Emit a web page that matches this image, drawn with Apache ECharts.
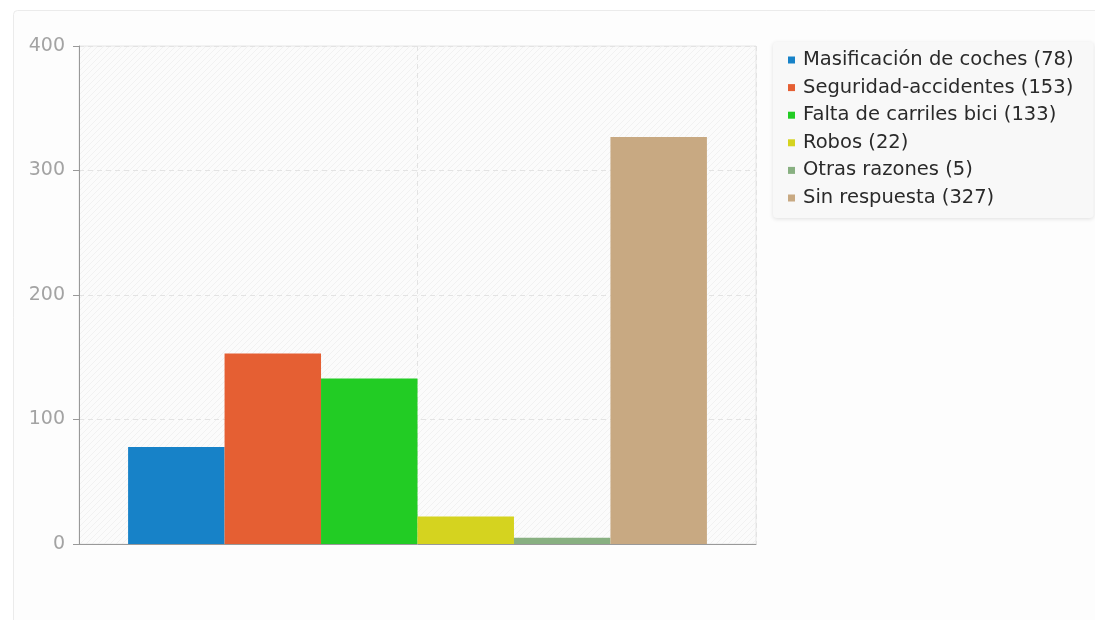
<!DOCTYPE html>
<html style="height: 100%">

<head>
    <meta charset="utf-8">
</head>

<body style="height: 100%; margin: 0; background: #fff">
    <div id="container" style="width: 1095px; height: 620px"></div>
    <script type="text/javascript" src="https://cdn.jsdelivr.net/npm/echarts@6/dist/echarts.min.js"></script>
    <script type="text/javascript">
        // datos
        var categorias = ['Masificación de coches', 'Seguridad-accidentes', 'Falta de carriles bici', 'Robos', 'Otras razones', 'Sin respuesta'];
        var valores = [78, 153, 133, 22, 5, 327];
        var colores = ['#1782c8', '#e55f33', '#22cc24', '#d5d31f', '#88b081', '#c8a982'];
        var ticksY = [0, 100, 200, 300, 400];

        // fondo rayado del area del grafico
        var trama = document.createElement('canvas');
        trama.width = 6;
        trama.height = 6;
        var ctx = trama.getContext('2d');
        ctx.fillStyle = '#fbfbfb';
        ctx.fillRect(0, 0, 6, 6);
        ctx.strokeStyle = '#f1f1f1';
        ctx.lineWidth = 1;
        ctx.beginPath();
        ctx.moveTo(-1, 7); ctx.lineTo(7, -1);
        ctx.moveTo(-4, 4); ctx.lineTo(4, -4);
        ctx.moveTo(2, 10); ctx.lineTo(10, 2);
        ctx.stroke();

        var dom = document.getElementById("container");
        var myChart = echarts.init(dom);

        var series = categorias.map(function (nombre, i) {
            return {
                name: nombre,
                type: 'bar',
                xAxisIndex: 0,
                data: [valores[i]],
                barGap: '0%',
                barCategoryGap: '14.5%',
                itemStyle: { color: colores[i] },
                emphasis: { disabled: true }
            };
        });

        var option = {
            animation: false,
            textStyle: { fontFamily: 'DejaVu Sans' },
            graphic: [{
                type: 'rect',
                z: -10,
                silent: true,
                shape: { x: 13.5, y: 10.5, width: 1100, height: 640, r: 4 },
                style: { fill: '#fdfdfd', stroke: '#ebebeb', lineWidth: 1 }
            }],
            grid: {
                left: 79,
                right: 339,
                top: 46,
                bottom: 76,
                show: true,
                backgroundColor: { image: trama, repeat: 'repeat' },
                borderColor: '#e6e6e6',
                borderWidth: 1
            },
            legend: {
                orient: 'vertical',
                left: 773,
                top: 42,
                padding: [8, 20, 10, 15],
                backgroundColor: '#f8f8f8',
                borderRadius: 4,
                shadowBlur: 4,
                shadowColor: 'rgba(0,0,0,0.12)',
                shadowOffsetY: 1,
                icon: 'rect',
                itemWidth: 7,
                itemHeight: 7,
                itemGap: 7.6,
                selectedMode: false,
                data: categorias,
                formatter: function (nombre) {
                    return nombre + ' (' + valores[categorias.indexOf(nombre)] + ')';
                },
                textStyle: {
                    fontFamily: 'DejaVu Sans',
                    fontSize: 19.5,
                    lineHeight: 20,
                    color: '#2a2a2a',
                    padding: [0, 0, 0, 3]
                }
            },
            xAxis: [{
                type: 'category',
                data: [''],
                axisLine: { show: true, lineStyle: { color: '#999', width: 1 } },
                axisTick: { show: false },
                axisLabel: { show: false },
                splitLine: { show: false }
            }, {
                type: 'value',
                min: 0,
                max: 2,
                interval: 1,
                position: 'bottom',
                axisLine: { show: false },
                axisTick: { show: false },
                axisLabel: { show: false },
                splitLine: { show: true, lineStyle: { color: '#e3e3e3', type: [5, 4], width: 1 } }
            }],
            yAxis: {
                type: 'value',
                min: ticksY[0],
                max: ticksY[ticksY.length - 1],
                interval: 100,
                axisLine: { show: true, lineStyle: { color: '#999', width: 1 } },
                axisTick: { show: true, length: 6, lineStyle: { color: '#999' } },
                axisLabel: {
                    color: '#a3a3a3',
                    fontSize: 19,
                    margin: 14,
                    fontFamily: 'DejaVu Sans'
                },
                splitLine: { show: true, lineStyle: { color: '#e3e3e3', type: [5, 4], width: 1 } }
            },
            series: series
        };

        myChart.setOption(option);
    </script>
</body>

</html>
